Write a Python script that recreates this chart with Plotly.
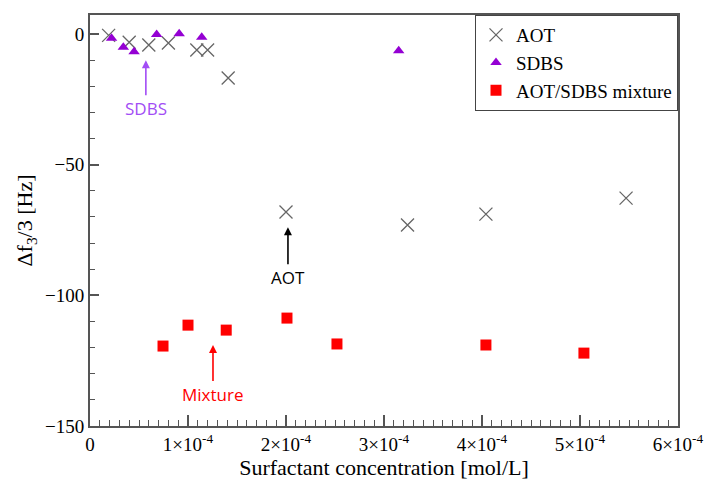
import plotly.graph_objects as go

aot_x = [1.9e-5, 4.0e-5, 6.0e-5, 8.0e-5, 1.09e-4, 1.2e-4, 1.41e-4, 2.0e-4, 3.24e-4, 4.04e-4, 5.47e-4]
aot_y = [-0.5, -3.1, -4.2, -3.4, -6.1, -6.1, -16.8, -68.1, -73.1, -68.9, -62.8]

sdbs_x = [2.2e-5, 3.4e-5, 4.5e-5, 6.8e-5, 9.1e-5, 1.14e-4, 3.15e-4]
sdbs_y = [-1.6, -5.0, -6.8, -0.2, 0.1, -1.2, -6.4]

mix_x = [7.45e-5, 1.0e-4, 1.39e-4, 2.01e-4, 2.52e-4, 4.04e-4, 5.04e-4]
mix_y = [-119.4, -111.4, -113.3, -108.7, -118.6, -119.0, -122.1]

x_ticks = [0, 1e-4, 2e-4, 3e-4, 4e-4, 5e-4, 6e-4]
x_ticklabels = ["0", "1×10<sup>-4</sup>", "2×10<sup>-4</sup>", "3×10<sup>-4</sup>",
                "4×10<sup>-4</sup>", "5×10<sup>-4</sup>", "6×10<sup>-4</sup>"]
y_ticks = [0, -50, -100, -150]

serif = "Liberation Serif"

fig = go.Figure()
fig.add_trace(go.Scatter(x=aot_x, y=aot_y, mode="markers", name="AOT",
                         marker=dict(symbol="x-thin-open", size=13, color="#666666",
                                     line=dict(width=1.3, color="#666666"))))
fig.add_trace(go.Scatter(x=sdbs_x, y=sdbs_y, mode="markers", name="SDBS",
                         marker=dict(symbol="triangle-up", size=10, color="#9400D3")))
fig.add_trace(go.Scatter(x=mix_x, y=mix_y, mode="markers", name="AOT/SDBS mixture",
                         marker=dict(symbol="square", size=11, color="#FF0000")))

ann_font = "Open Sans"
fig.add_annotation(x=5.7e-5, y=-10, text="SDBS", showarrow=True, ax=0, ay=48,
                   arrowhead=2, arrowsize=1, arrowwidth=1.6, arrowcolor="#A24DF5",
                   font=dict(family=ann_font, size=17, color="#A24DF5"))
fig.add_annotation(x=2.02e-4, y=-73.9, text="AOT", showarrow=True, ax=0, ay=50,
                   arrowhead=2, arrowsize=1, arrowwidth=1.6, arrowcolor="#000000",
                   font=dict(family=ann_font, size=17, color="#000000"))
fig.add_annotation(x=1.255e-4, y=-119, text="Mixture", showarrow=True, ax=0, ay=49,
                   arrowhead=2, arrowsize=1, arrowwidth=1.6, arrowcolor="#FF0000",
                   font=dict(family=ann_font, size=17, color="#FF0000"))

fig.update_layout(
    width=705, height=483,
    margin=dict(l=90, r=27, t=15, b=57),
    paper_bgcolor="white", plot_bgcolor="white",
    font=dict(family=serif, size=19, color="black"),
    legend=dict(x=1, xanchor="right", y=1, yanchor="top",
                bordercolor="#444444", borderwidth=1, bgcolor="white",
                font=dict(family=serif, size=19), tracegroupgap=0,
                itemwidth=30),
    xaxis=dict(range=[0, 6e-4], tickvals=x_ticks, ticktext=x_ticklabels,
               automargin=False,
               ticks="inside", ticklen=11, tickwidth=1.5, tickcolor="#555555",
               minor=dict(dtick=1e-5, ticks="inside", ticklen=6, tickcolor="#555555", tickwidth=1),
               showline=True, linecolor="#555555", linewidth=2, mirror=True,
               showgrid=False, zeroline=False,
               title=dict(text="Surfactant concentration [mol/L]", font=dict(size=22), standoff=2),
               tickfont=dict(size=19)),
    yaxis=dict(range=[-150, 7.3], tickvals=y_ticks,
               automargin=False,
               ticks="inside", ticklen=9, tickwidth=1.5, tickcolor="#555555",
               minor=dict(dtick=10, ticks="inside", ticklen=5, tickcolor="#555555", tickwidth=1),
               showline=True, linecolor="#555555", linewidth=2, mirror=True,
               showgrid=False, zeroline=False,
               title=dict(text="Δf<sub>3</sub>/3 [Hz]", font=dict(size=22), standoff=6),
               tickfont=dict(size=19)),
)

fig.write_html("out.html")
